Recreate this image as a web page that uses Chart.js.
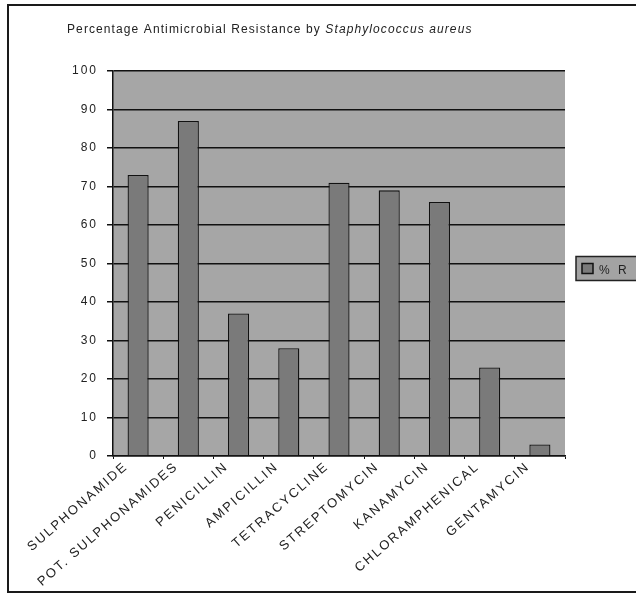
<!DOCTYPE html>
<html>
<head>
<meta charset="utf-8">
<script src="https://cdn.jsdelivr.net/npm/chart.js@4.4.1/dist/chart.umd.min.js"></script>
<style>
  html, body { margin: 0; padding: 0; background: #fff; }
  canvas { display: block; }
</style>
</head>
<body>
<canvas id="grafico" width="636" height="597"></canvas>
<script>
// dados
const antibioticos = ['SULPHONAMIDE', 'POT. SULPHONAMIDES', 'PENICILLIN', 'AMPICILLIN', 'TETRACYCLINE',
  'STREPTOMYCIN', 'KANAMYCIN', 'CHLORAMPHENICAL', 'GENTAMYCIN'];
const resistencia = [73, 87, 37, 28, 71, 69, 66, 23, 3];
const nomeSerie = '% R';
const tituloNormal = 'Percentage Antimicrobial Resistance by ';
const tituloItalico = 'Staphylococcus aureus';

const fonte = 'Arial, "Liberation Sans", sans-serif';

// espaçamento entre letras (o Chart.js não tem essa opção)
const espacamento = {
  id: 'espacamento',
  beforeUpdate(chart) { chart.ctx.letterSpacing = '2px'; },
  beforeDraw(chart) { chart.ctx.letterSpacing = '2px'; }
};

// moldura, fundo cinza, título e legenda
const moldura = {
  id: 'moldura',
  beforeDraw(chart) {
    const ctx = chart.ctx;
    const a = chart.chartArea;
    ctx.save();
    ctx.fillStyle = '#fff';
    ctx.fillRect(0, 0, chart.width, chart.height);
    ctx.strokeStyle = '#1a1a1a';
    ctx.lineWidth = 2;
    ctx.strokeRect(8, 5, 660, 587);
    ctx.fillStyle = '#a6a6a6';
    ctx.fillRect(a.left, a.top, a.right - a.left, a.bottom - a.top);
    ctx.restore();
  },
  afterDraw(chart) {
    const ctx = chart.ctx;
    const a = chart.chartArea;
    ctx.save();
    // título
    ctx.fillStyle = '#222';
    ctx.textBaseline = 'alphabetic';
    ctx.textAlign = 'left';
    ctx.letterSpacing = '1.1px';
    ctx.font = '12px ' + fonte;
    ctx.fillText(tituloNormal, 67, 33);
    const w = ctx.measureText(tituloNormal).width;
    ctx.font = 'italic 12px ' + fonte;
    ctx.fillText(tituloItalico, 67 + w, 33);

    // legenda
    const lx = a.right + 11;
    const ly = (a.top + a.bottom) / 2 + 5 - 12;
    ctx.fillStyle = '#a3a3a3';
    ctx.fillRect(lx, ly, 80, 24);
    ctx.strokeStyle = '#222';
    ctx.lineWidth = 1.5;
    ctx.strokeRect(lx, ly, 80, 24);
    const ds = chart.data.datasets[0];
    ctx.fillStyle = ds.backgroundColor;
    ctx.fillRect(lx + 6, ly + 7, 11, 10);
    ctx.strokeStyle = '#111';
    ctx.strokeRect(lx + 6, ly + 7, 11, 10);
    ctx.fillStyle = '#222';
    ctx.letterSpacing = '2.5px';
    ctx.font = '12px ' + fonte;
    ctx.fillText(ds.label, lx + 23, ly + 17);
    ctx.restore();
  }
};

const grafico = new Chart(document.getElementById('grafico').getContext('2d'), {
  type: 'bar',
  data: {
    labels: antibioticos,
    datasets: [
      {
        label: nomeSerie,
        data: resistencia,
        backgroundColor: '#7a7a7a',
        borderColor: '#111',
        borderWidth: 1.3,
        barPercentage: 0.42,
        categoryPercentage: 1
      }
    ]
  },
  options: {
    responsive: false,
    animation: false,
    layout: {
      padding: { top: 71, left: 0, right: 71, bottom: 0 }
    },
    plugins: {
      legend: { display: false },
      title: { display: false },
      tooltip: { enabled: false }
    },
    scales: {
      x: {
        grid: {
          display: true,
          drawOnChartArea: false,
          color: '#111',
          tickLength: 3,
          offset: true
        },
        border: { display: true, color: '#111', width: 1.5 },
        ticks: {
          minRotation: 41,
          maxRotation: 41,
          autoSkip: false,
          color: '#222',
          font: { family: fonte, size: 13 },
          padding: 0,
          labelOffset: -12
        },
        afterFit(scale) { scale.height = 141; }
      },
      y: {
        min: 0,
        max: 100,
        ticks: {
          stepSize: 10,
          color: '#222',
          font: { family: fonte, size: 12 },
          padding: 9
        },
        grid: {
          color: '#111',
          lineWidth: 1.5,
          tickLength: 6
        },
        border: { display: true, color: '#111', width: 1.5 },
        afterFit(scale) { scale.width = 113; }
      }
    }
  },
  plugins: [espacamento, moldura]
});
</script>
</body>
</html>
